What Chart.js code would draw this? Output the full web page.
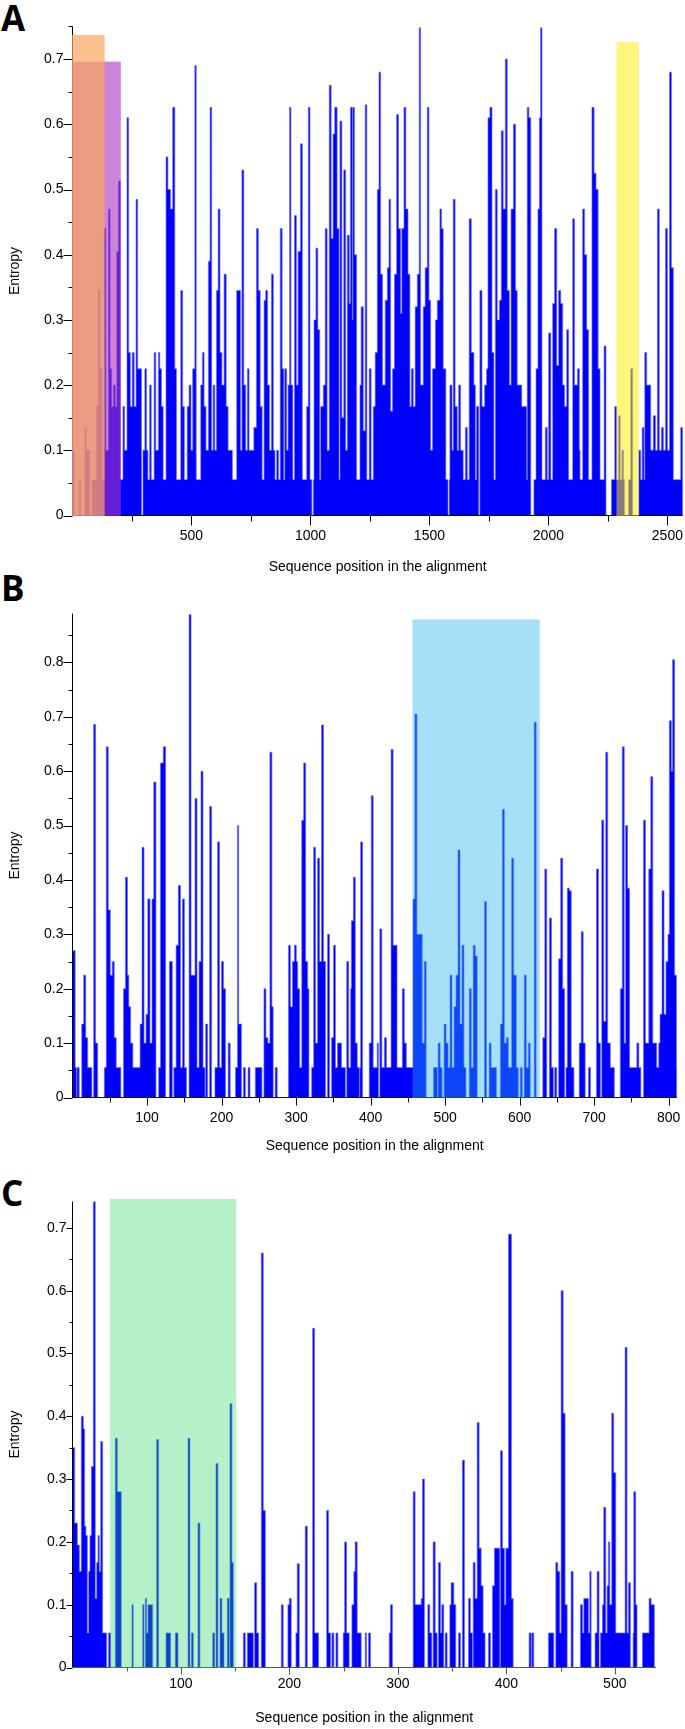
<!DOCTYPE html>
<html><head><meta charset="utf-8">
<script src="https://cdn.jsdelivr.net/npm/chart.js@4.4.0/dist/chart.umd.min.js"></script>
<style>
html,body{margin:0;padding:0;background:#fff;}
body{width:685px;height:1729px;position:relative;overflow:hidden;}
canvas{position:absolute;left:0;}
.tag{position:absolute;left:1px;font:bold 35px "Open Sans",sans-serif;line-height:35px;color:#000;}
</style></head><body>
<div class="tag" style="top:0px">A</div>
<div class="tag" style="top:570px">B</div>
<div class="tag" style="top:1175px">C</div>
<canvas id="cA" width="685" height="580" style="top:0px"></canvas>
<canvas id="cB" width="685" height="580" style="top:580px"></canvas>
<canvas id="cC" width="685" height="569" style="top:1160px"></canvas>
<script>
// ---- data: [segment start position, entropy] (step function) ----
const segmentsA = [[0,0.1],[7,0],[28,0.055],[35,0],[52,0.135],[58,0.1],[72,0],[82,0.055],[100,0.167],[108,0.345],[116,0.225],[124,0.055],[133,0.44],[140,0.1],[151,0.47],[158,0.225],[165,0.167],[172,0.2],[180,0.167],[186,0.405],[193,0.513],[201,0.055],[212,0.167],[219,0.1],[229,0.61],[236,0.25],[243,0.167],[251,0.25],[259,0.167],[267,0.485],[274,0.225],[290,0],[296,0.1],[304,0.225],[311,0.1],[317,0.055],[324,0.2],[331,0.055],[343,0.25],[350,0.1],[361,0.25],[367,0.225],[374,0.167],[381,0.055],[393,0.55],[401,0.5],[412,0.47],[421,0.626],[430,0.225],[437,0.055],[455,0.345],[463,0.167],[470,0.055],[482,0.167],[490,0.2],[498,0.1],[505,0.225],[514,0.69],[520,0.055],[539,0.2],[546,0.25],[553,0.167],[561,0.1],[571,0.39],[578,0.626],[585,0.1],[591,0.2],[598,0.1],[605,0.345],[612,0.47],[620,0.25],[628,0.2],[637,0.37],[646,0.167],[654,0.1],[672,0.055],[690,0.345],[706,0.1],[712,0.53],[720,0.2],[728,0.1],[735,0.225],[742,0.1],[762,0.135],[773,0.44],[781,0.345],[789,0.167],[797,0.055],[805,0.33],[812,0.345],[820,0.2],[828,0.1],[836,0.37],[844,0.1],[851,0.055],[858,0.1],[866,0.055],[873,0.44],[881,0.225],[888,0.055],[892,0.225],[900,0.1],[906,0.2],[912,0.626],[918,0.2],[926,0.055],[933,0.46],[941,0.2],[948,0.405],[958,0.57],[966,0.055],[984,0.167],[991,0.626],[998,0.055],[1006,0],[1012,0.055],[1015,0.3],[1023,0.41],[1031,0.285],[1039,0.055],[1043,0.167],[1054,0.2],[1062,0.44],[1070,0.1],[1079,0.66],[1087,0.425],[1095,0.585],[1102,0.626],[1112,0.44],[1120,0.055],[1124,0.605],[1132,0.15],[1140,0.53],[1148,0.1],[1155,0.43],[1163,0.325],[1168,0.626],[1176,0.3],[1178,0.626],[1185,0.4],[1194,0.055],[1208,0.2],[1213,0.32],[1222,0.13],[1230,0.63],[1237,0.055],[1247,0.225],[1255,0.055],[1264,0.167],[1272,0.25],[1281,0.5],[1288,0.68],[1295,0.37],[1303,0.2],[1314,0.33],[1323,0.38],[1330,0.485],[1337,0.16],[1345,0.225],[1353,0.37],[1362,0.615],[1370,0.44],[1379,0.31],[1384,0.44],[1393,0.626],[1401,0.47],[1410,0.37],[1418,0.167],[1424,0.225],[1432,0.167],[1440,0.32],[1449,0.37],[1457,0.748],[1463,0.2],[1474,0.32],[1482,0.38],[1491,0.626],[1498,0.33],[1505,0.1],[1513,0.225],[1525,0.3],[1533,0.33],[1544,0.47],[1551,0.44],[1558,0.225],[1569,0.055],[1578,0],[1583,0.055],[1586,0.2],[1595,0.1],[1600,0.485],[1608,0.167],[1617,0.1],[1623,0.2],[1631,0.1],[1642,0.055],[1651,0.135],[1659,0.055],[1667,0.455],[1676,0.25],[1687,0.2],[1693,0.055],[1698,0.167],[1707,0],[1712,0.345],[1721,0.167],[1732,0.2],[1740,0.225],[1746,0.61],[1754,0.626],[1763,0.25],[1771,0.055],[1777,0.5],[1785,0.3],[1794,0.33],[1802,0.59],[1810,0.47],[1819,0.7],[1827,0.345],[1836,0.2],[1843,0.47],[1853,0.6],[1862,0.345],[1869,0.2],[1888,0.167],[1909,0.055],[1911,0.626],[1918,0.61],[1926,0],[1939,0.055],[1948,0.225],[1956,0.47],[1962,0.61],[1967,0.748],[1973,0.055],[1987,0.135],[1995,0.055],[2001,0.28],[2010,0.055],[2018,0.325],[2026,0.44],[2035,0.23],[2043,0.345],[2052,0.325],[2060,0.2],[2068,0.167],[2077,0.285],[2085,0.055],[2102,0.455],[2110,0.2],[2122,0.225],[2130,0.1],[2133,0.055],[2144,0.47],[2152,0.4],[2161,0.285],[2169,0.055],[2183,0.626],[2192,0.525],[2200,0.5],[2209,0.225],[2217,0.055],[2234,0.26],[2242,0],[2265,0.055],[2279,0.167],[2287,0.055],[2295,0.153],[2302,0.055],[2309,0.1],[2316,0.055],[2320,0],[2337,0.055],[2346,0.225],[2354,0],[2380,0.1],[2388,0.055],[2394,0.135],[2402,0.055],[2405,0.25],[2413,0.2],[2430,0.1],[2441,0.153],[2450,0.1],[2458,0.47],[2466,0.1],[2475,0.135],[2483,0.1],[2492,0.44],[2500,0.1],[2509,0.68],[2517,0.38],[2525,0.055],[2556,0.135],[2565,0]];

const segmentsB = [[0,0.27],[3.6,0.055],[5.5,0],[6,0.055],[9,0],[12.4,0.135],[15,0.225],[17.8,0.11],[20.4,0.055],[26,0],[28.4,0.686],[31,0.1],[33.8,0],[42.7,0.055],[45.3,0.645],[48,0.345],[50.7,0.225],[53.3,0.25],[56,0.11],[58.7,0.055],[64.9,0],[68.4,0.2],[71,0.405],[73.8,0.225],[75.6,0.167],[78,0.1],[81,0.055],[90.7,0.135],[93.3,0.46],[96,0.1],[98.7,0.153],[101,0.365],[104,0.1],[106.7,0.365],[109,0.58],[112,0],[115.6,0.055],[118,0.615],[121.8,0.645],[125,0],[130,0.25],[134,0],[136,0.055],[139,0.28],[142,0.39],[145,0.055],[147.6,0.365],[150.2,0.055],[153,0],[156.4,0.888],[159.1,0.225],[164.4,0.55],[167.1,0.055],[169.8,0.25],[172.4,0.6],[175.1,0.055],[177.8,0],[178.7,0.135],[181.3,0],[184,0.535],[186.7,0],[191.1,0.055],[194.7,0.47],[197.3,0.055],[200,0.25],[202.7,0.2],[205.3,0],[208.9,0.1],[211.6,0],[218.7,0.055],[221.3,0.5],[223,0.135],[226.7,0],[229.3,0.055],[232,0],[235.6,0.055],[238.2,0],[245.3,0.055],[254.2,0],[256.9,0.2],[259.6,0.11],[262.2,0.1],[264.9,0.635],[267.6,0.167],[269.3,0],[272,0.055],[274.7,0],[289.8,0.28],[292.4,0.167],[295.1,0.25],[297.8,0.28],[300.4,0.25],[302.2,0.2],[304.9,0.055],[307.6,0.51],[310.2,0.615],[312.9,0.25],[315.6,0.2],[317.3,0],[320.9,0.055],[323.6,0.46],[326.2,0.1],[328.9,0.44],[331.6,0.25],[334.2,0.685],[336.9,0.25],[339.6,0],[342.2,0.3],[344.9,0],[347.6,0.11],[350.2,0.28],[352.9,0.055],[355.6,0.1],[361,0.055],[366.2,0],[368,0.25],[370.6,0.055],[373.3,0.2],[374.2,0.325],[376.9,0.405],[379.5,0.1],[382.2,0.055],[384.9,0],[385.5,0.055],[386.6,0.47],[389.3,0],[398.2,0.1],[400.9,0.555],[403.5,0.055],[408.9,0.1],[410.6,0],[412.4,0.31],[415.1,0.055],[418.6,0.11],[421.3,0.055],[427.5,0.64],[430.2,0.28],[435.5,0.055],[442.6,0.2],[445.3,0.1],[448,0.055],[456.9,0.365],[459.5,0.705],[462.2,0.3],[469.3,0.1],[472,0.25],[474.6,0],[484.4,0.055],[489.7,0],[490.6,0.1],[493.3,0.055],[496,0],[498.6,0.135],[501.3,0.1],[504,0.055],[506.6,0.225],[509.3,0.055],[512,0.167],[514.6,0.225],[517.3,0.455],[520,0.135],[522.6,0.28],[525.3,0.055],[528,0],[532.4,0.2],[535.1,0.055],[537.7,0.28],[540.4,0.26],[543.1,0],[552.9,0.36],[555.5,0],[559.1,0.1],[561.7,0.055],[568.9,0],[574.2,0.135],[576.9,0.53],[579.5,0.1],[582.2,0.11],[584.9,0.055],[589.3,0.44],[592,0.225],[595.6,0.055],[598.2,0],[600.9,0.055],[603.6,0],[606.2,0.225],[608.9,0.055],[611.6,0.1],[614.2,0],[619.6,0.69],[622.2,0],[631.1,0.11],[633.8,0.42],[636.4,0],[640,0.33],[642.7,0.055],[645.3,0],[647.1,0.055],[649.8,0],[652.4,0.255],[655.1,0.44],[657.8,0.2],[660.4,0],[662.2,0.055],[664,0.385],[666.7,0.38],[669.3,0.055],[672.9,0],[680,0.1],[682.7,0.305],[685.3,0.1],[688,0],[692.4,0.055],[695.1,0],[703.1,0.42],[705.8,0.1],[708.4,0],[710.2,0.51],[712.9,0.14],[715.6,0.635],[718.2,0.1],[721.8,0.055],[727.1,0],[735.1,0.2],[737.8,0.645],[740.4,0.1],[742.2,0.5],[744.9,0.385],[747.6,0.055],[757.3,0.1],[760,0.055],[762.7,0],[766.2,0.51],[768.9,0.1],[773.3,0.42],[776,0.59],[778.7,0.1],[784,0.055],[786.7,0.1],[788.4,0.153],[791.1,0.38],[793.8,0.153],[796.4,0.25],[799.1,0.3],[800.9,0.693],[803.6,0.6],[805.3,0.805],[808,0.225],[810.7,0.055],[811,0]];

const segmentsC = [[0,0.35],[2,0.23],[4.5,0.195],[6.3,0.153],[8.1,0.4],[10,0.38],[11.2,0.225],[12.4,0.21],[13.7,0.055],[14.9,0.153],[16.1,0.21],[17.4,0.32],[19.2,0.742],[21,0.11],[22.3,0.167],[23.5,0.21],[24.7,0.153],[26,0.36],[27.8,0.055],[31.5,0],[33.3,0.055],[35.2,0],[39.5,0.365],[41.3,0.28],[45,0],[54.8,0.1],[56,0],[64.7,0.1],[65.9,0],[67.1,0.11],[68.4,0.055],[69.6,0.1],[73.9,0],[77.6,0.363],[79.4,0],[86.2,0.055],[90.5,0],[94.8,0.055],[97.3,0],[106.5,0.365],[108.3,0],[109.6,0.055],[111.4,0],[115.7,0.23],[117.5,0],[129.2,0.055],[131.1,0],[132.3,0.325],[134.1,0],[136,0.11],[137.8,0.055],[139.7,0],[142.7,0.11],[144.6,0],[145.2,0.42],[147,0.167],[148.3,0],[157.5,0.055],[159.3,0],[161.2,0.055],[166.7,0],[167.9,0.135],[169.8,0.055],[171.6,0],[174.1,0.66],[175.9,0.25],[177.8,0],[192.5,0.1],[194.3,0],[198.6,0.1],[199.9,0.11],[201.7,0],[206,0.055],[207.2,0.165],[209.1,0],[214.6,0.225],[216.5,0],[221.4,0.54],[223.2,0.055],[226.9,0],[234.3,0.25],[236.1,0.055],[238,0],[239.2,0.055],[241,0],[242.9,0.055],[244.7,0],[249.6,0.055],[250.9,0.2],[252.7,0.055],[255.1,0],[257.6,0.1],[259.4,0.153],[260.6,0.2],[262.5,0.055],[266.2,0],[269.9,0.055],[271.1,0],[272.9,0.055],[274.8,0],[292,0.055],[293.2,0.1],[295,0],[314.1,0.28],[315.9,0.1],[321.5,0.11],[322.7,0.3],[324.5,0],[327.6,0.1],[329.4,0.055],[331.3,0],[332.5,0.2],[334.4,0.055],[336.2,0],[337.4,0.167],[339.3,0.055],[340.5,0.1],[342.3,0],[343.6,0.055],[345.4,0],[347.9,0.1],[349.1,0.135],[351.6,0.1],[353.4,0],[355.9,0.055],[357.7,0],[359.5,0.33],[361.4,0],[365.1,0.11],[366.9,0.055],[368.8,0],[369.4,0.167],[371.2,0.11],[373.1,0.39],[374.9,0.19],[376.8,0.13],[378.6,0.055],[380.4,0],[383.5,0.055],[385.4,0],[387.2,0.13],[389,0.19],[394,0],[394.6,0.345],[396.4,0.19],[398.3,0.1],[399.5,0.19],[402,0.69],[404.7,0.11],[406.3,0],[421,0.055],[422.9,0],[423.5,0.055],[425.3,0],[438.8,0.055],[443.8,0],[445.6,0.167],[447.4,0.153],[449.3,0.055],[450.5,0.6],[452.4,0.405],[454.2,0.1],[456.1,0],[459.7,0.153],[461.6,0],[468.3,0.1],[470.2,0.055],[471.4,0.11],[475.7,0.055],[476.9,0.153],[478.2,0],[481.8,0.055],[483.7,0.153],[485.5,0],[486.8,0.055],[488.6,0.1],[489.8,0.255],[491.7,0.055],[492.9,0.13],[494.1,0.2],[495.4,0.1],[497.2,0.405],[499,0.31],[500.9,0.055],[509.5,0.51],[511.3,0.055],[512.6,0.135],[514.4,0],[516.9,0.055],[517.5,0.28],[519.3,0.1],[520.5,0],[525.5,0.055],[531.6,0.11],[533.5,0.1],[536.5,0],[538,0]];

// tick labels
const xTicksA = [500,1000,1500,2000,2500];
const xTicksB = [100,200,300,400,500,600,700,800];
const xTicksC = [100,200,300,400,500];
const yTicksA = [0,0.1,0.2,0.3,0.4,0.5,0.6,0.7];
const yTicksB = [0,0.1,0.2,0.3,0.4,0.5,0.6,0.7,0.8];
const yTicksC = [0,0.1,0.2,0.3,0.4,0.5,0.6,0.7];
// highlighted regions: [from position, to position, top entropy]
const highlightsA = [[0,203,0.696],[0,135,0.737],[2288,2380,0.726]];
const highlightsB = [[457,627,0.879]];
const highlightsC = [[35,151,0.746]];

const FONT = '"Liberation Sans", Arial, sans-serif';

const panels = [
  {id:'cA', seg:segmentsA, xMax:2565, yMax:0.75, xt:xTicksA, yt:yTicksA, hl:highlightsA,
   hlColors:['rgba(170,50,190,0.6)','rgba(252,165,95,0.7)','rgba(255,236,0,0.52)'],
   area:{top:26.5,bottom:515.5,left:72.5,right:683}, tk:{xMaj:10,xMin:6,yMaj:9,yMin:4},
   xPad:2, titlePad:4.6, xAxisColor:'#000'},
  {id:'cB', seg:segmentsB, xMax:811, yMax:0.89, xt:xTicksB, yt:yTicksB, hl:highlightsB,
   hlColors:['rgba(30,175,238,0.4)'],
   area:{top:33.5,bottom:517.5,left:72.5,right:680.5}, tk:{xMaj:8,xMin:5,yMaj:9,yMin:4},
   xPad:4.6, titlePad:5, xAxisColor:'#111'},
  {id:'cC', seg:segmentsC, xMax:538, yMax:0.742, xt:xTicksC, yt:yTicksC, hl:highlightsC,
   hlColors:['rgba(30,210,90,0.33)'],
   area:{top:41.5,bottom:507.5,left:72.5,right:656}, tk:{xMaj:7,xMin:4,yMaj:6,yMin:3},
   xPad:1.6, titlePad:2.6, xAxisColor:'#555'}
];

function axesPlugin(p){
  return {
    id:'axes_'+p.id,
    afterDraw(chart){
      const c = chart.ctx, a = chart.chartArea, xs = chart.scales.x, ys = chart.scales.y;
      c.save();
      c.lineWidth = 1;
      c.strokeStyle = '#000';
      c.beginPath();
      c.moveTo(a.left, a.top); c.lineTo(a.left, a.bottom);
      const ystep = p.yt[1]-p.yt[0];
      for (let v = 0; v <= p.yMax + 1e-9; v += ystep/2) {
        const major = Math.abs(Math.round(v/ystep)*ystep - v) < 1e-6;
        const y = Math.round(ys.getPixelForValue(v)) + 0.5;
        c.moveTo(a.left - (major ? p.tk.yMaj : p.tk.yMin), y); c.lineTo(a.left, y);
      }
      c.stroke();
      c.strokeStyle = p.xAxisColor;
      c.beginPath();
      c.moveTo(a.left, a.bottom); c.lineTo(a.right, a.bottom);
      const xstep = p.xt[1]-p.xt[0];
      for (let v = xstep/2; v <= p.xMax; v += xstep/2) {
        const major = Math.abs(Math.round(v/xstep)*xstep - v) < 1e-6;
        const x = Math.round(xs.getPixelForValue(v)) + 0.5;
        c.moveTo(x, a.bottom); c.lineTo(x, a.bottom + (major ? p.tk.xMaj : p.tk.xMin));
      }
      c.stroke();
      p.hl.forEach((h, i) => {
        const x0 = xs.getPixelForValue(h[0]), x1 = xs.getPixelForValue(h[1]);
        const y0 = ys.getPixelForValue(h[2]), yb = ys.getPixelForValue(0);
        c.fillStyle = p.hlColors[i];
        c.fillRect(x0 - 0.5, y0, x1 - x0 + 0.5, yb - y0 + 0.5);
      });
      c.restore();
    }
  };
}

function build(p){
  const el = document.getElementById(p.id);
  const W = el.width, H = el.height;
  const pts = p.seg.map(s => ({x:s[0], y:s[1]}));
  new Chart(el, {
    type:'line',
    data:{datasets:[{data:pts, stepped:true, fill:'origin', backgroundColor:'#0000ff',
      borderColor:'rgba(110,110,255,0.95)', borderWidth:0.7, pointRadius:0, pointHoverRadius:0}]},
    options:{
      responsive:false, animation:false, devicePixelRatio:1,
      events:[],
      layout:{padding:{top:p.area.top, right:W - p.area.right, left:0, bottom:0}},
      plugins:{legend:{display:false}, tooltip:{enabled:false}},
      scales:{
        x:{type:'linear', min:0, max:p.xMax,
           grid:{display:false, drawTicks:true, tickLength:p.tk.xMaj},
           border:{display:false},
           ticks:{font:{family:FONT,size:14}, color:'#000', padding:p.xPad, maxRotation:0, autoSkip:false,
                  callback:v => String(v)},
           afterBuildTicks:s => { s.ticks = p.xt.map(v => ({value:v})); },
           afterFit:s => { s.height = H - p.area.bottom; },
           title:{display:true, text:'Sequence position in the alignment', font:{family:FONT,size:14}, color:'#000',
                  padding:{top:0,bottom:p.titlePad}}},
        y:{min:0, max:p.yMax,
           grid:{display:false, drawTicks:true, tickLength:p.tk.yMaj},
           border:{display:false},
           ticks:{font:{family:FONT,size:14}, color:'#000', padding:0,
                  callback:v => v === 0 ? '0' : v.toFixed(1)},
           afterBuildTicks:s => { s.ticks = p.yt.map(v => ({value:v})); },
           afterFit:s => { s.width = p.area.left; },
           title:{display:true, text:'Entropy', font:{family:FONT,size:14}, color:'#000',
                  padding:{top:6.6,bottom:0}}}
      }
    },
    plugins:[axesPlugin(p)]
  });
}
panels.forEach(build);
</script>
</body></html>
